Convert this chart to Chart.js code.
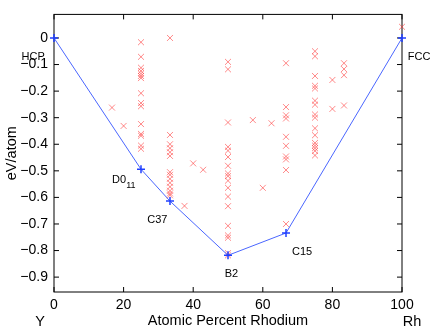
<!DOCTYPE html>
<html>
<head>
<meta charset="utf-8">
<script src="https://cdn.jsdelivr.net/npm/chart.js@4.4.0/dist/chart.umd.min.js"></script>
<style>
html, body { margin: 0; padding: 0; background: #fff; }
</style>
</head>
<body>
<canvas id="myChart" width="436" height="330"></canvas>
<script>
// convex hull (ground states)
var hullX = [0, 25, 33.33, 50, 66.67, 100];
var hullY = [0, -0.494, -0.614, -0.818, -0.734, 0];

// all calculated structures
var calcX = [16.67, 20,
    25, 25, 25, 25, 25, 25, 25, 25, 25, 25, 25, 25, 25, 25, 25,
    33.33, 33.33, 33.33, 33.33, 33.33, 33.33, 33.33, 33.33, 33.33, 33.33, 33.33, 33.33, 33.33, 33.33,
    37.5, 40, 42.86,
    50, 50, 50, 50, 50, 50, 50, 50, 50, 50, 50, 50, 50, 50, 50, 50, 50, 50,
    57.14, 60, 62.5,
    66.67, 66.67, 66.67, 66.67, 66.67, 66.67, 66.67, 66.67, 66.67, 66.67,
    75, 75, 75, 75, 75, 75, 75, 75, 75, 75, 75, 75, 75, 75, 75, 75,
    80, 80,
    83.33, 83.33, 83.33, 83.33,
    100];
var calcY = [-0.262, -0.331,
    -0.016, -0.071, -0.112, -0.124, -0.134, -0.143, -0.151, -0.208, -0.245, -0.257, -0.324, -0.361, -0.368, -0.405, -0.417,
    0.0, -0.365, -0.40, -0.415, -0.43, -0.444, -0.505, -0.515, -0.53, -0.545, -0.56, -0.575, -0.585, -0.592,
    -0.632, -0.472, -0.496,
    -0.09, -0.118, -0.318, -0.41, -0.424, -0.448, -0.481, -0.51, -0.52, -0.537, -0.564, -0.597, -0.633, -0.707, -0.743, -0.752, -0.810, -0.818,
    -0.309, -0.564, -0.321,
    -0.095, -0.260, -0.291, -0.303, -0.372, -0.406, -0.446, -0.457, -0.497, -0.70,
    -0.050, -0.069, -0.143, -0.180, -0.190, -0.236, -0.251, -0.288, -0.300, -0.340, -0.366, -0.395, -0.405, -0.415, -0.425, -0.442,
    -0.158, -0.267,
    -0.095, -0.117, -0.140, -0.254,
    0.042];

// structure names and where they are written
var phaseNames = ['HCP', 'FCC', 'C37', 'B2', 'C15'];
var phaseX = [-6.0, 104.9, 29.7, 51.0, 71.3];
var phaseY = [-0.070, -0.070, -0.685, -0.890, -0.807];
var d011X = 16.7, d011Y = -0.536;

var xTicks = [0, 20, 40, 60, 80, 100];
var yTicks = [0, -0.1, -0.2, -0.3, -0.4, -0.5, -0.6, -0.7, -0.8, -0.9];

var fontName = '"Liberation Sans", Arial, Helvetica, sans-serif';

var hullData = [];
for (var i = 0; i < hullX.length; i++) {
    hullData.push({x: hullX[i], y: hullY[i]});
}
var calcData = [];
for (var i = 0; i < calcX.length; i++) {
    calcData.push({x: calcX[i], y: calcY[i]});
}

//рамка и внутренние риски
var framePlugin = {
    id: 'frame',
    beforeDatasetsDraw: function(chart) {
        var ctx = chart.ctx;
        var a = chart.chartArea;
        var xs = chart.scales.x, ys = chart.scales.y;
        ctx.save();
        ctx.strokeStyle = '#000';
        ctx.lineWidth = 1;
        ctx.strokeRect(a.left, a.top, a.right - a.left, a.bottom - a.top);
        ctx.beginPath();
        for (var i = 0; i < xTicks.length; i++) {
            var px = xs.getPixelForValue(xTicks[i]);
            ctx.moveTo(px, a.bottom); ctx.lineTo(px, a.bottom - 5);
            ctx.moveTo(px, a.top); ctx.lineTo(px, a.top + 5);
        }
        for (var j = 0; j < yTicks.length; j++) {
            var py = ys.getPixelForValue(yTicks[j]);
            ctx.moveTo(a.left, py); ctx.lineTo(a.left + 5, py);
            ctx.moveTo(a.right, py); ctx.lineTo(a.right - 5, py);
        }
        ctx.stroke();
        ctx.restore();
    },
    afterDraw: function(chart) {
        var ctx = chart.ctx;
        var xs = chart.scales.x, ys = chart.scales.y;
        ctx.save();
        ctx.fillStyle = '#000';
        ctx.textAlign = 'center';
        ctx.textBaseline = 'middle';
        ctx.font = '11px ' + fontName;
        for (var i = 0; i < phaseNames.length; i++) {
            ctx.fillText(phaseNames[i], xs.getPixelForValue(phaseX[i]), ys.getPixelForValue(phaseY[i]));
        }
        // D0 with subscript 11
        ctx.textAlign = 'left';
        var dx = xs.getPixelForValue(d011X), dy = ys.getPixelForValue(d011Y);
        ctx.fillText('D0', dx, dy);
        var w = ctx.measureText('D0').width;
        ctx.font = '9px ' + fontName;
        ctx.fillText('11', dx + w, dy + 5);
        // element names under the axis ends
        ctx.font = '14.5px ' + fontName;
        ctx.textAlign = 'center';
        ctx.fillText('Y', xs.getPixelForValue(0) - 14, 322);
        ctx.fillText('Rh', xs.getPixelForValue(100) + 10, 322);
        ctx.restore();
    }
};

var ctx = document.getElementById('myChart').getContext('2d');
var myChart = new Chart(ctx, {
    type: 'scatter',
    data: {
        datasets: [
            {
                label: 'hull',
                data: hullData,
                showLine: true,
                borderColor: '#4a66ff',
                borderWidth: 1,
                pointStyle: 'cross',
                pointRadius: 4,
                pointBorderColor: '#2040ff',
                pointBorderWidth: 1.5,
                clip: false
            },
            {
                label: 'structures',
                data: calcData,
                showLine: false,
                pointStyle: 'crossRot',
                pointRadius: 4.2,
                pointBorderColor: 'rgba(255, 40, 40, 0.55)',
                pointBorderWidth: 1,
                clip: false
            }
        ]
    },
    options: {
        responsive: false,
        animation: false,
        events: [],
        layout: {
            padding: {left: 0, right: 34, top: 9, bottom: 0}
        },
        plugins: {
            legend: {display: false},
            tooltip: {enabled: false}
        },
        scales: {
            x: {
                type: 'linear',
                min: 0,
                max: 100,
                afterBuildTicks: function(scale) {
                    scale.ticks = xTicks.map(function(v) { return {value: v}; });
                },
                afterFit: function(scale) { scale.height = 38; },
                grid: {display: false, drawTicks: false},
                border: {display: false},
                ticks: {
                    color: '#000',
                    font: {family: fontName, size: 14},
                    padding: 5,
                    maxRotation: 0
                },
                title: {
                    display: true,
                    text: 'Atomic Percent Rhodium',
                    color: '#000',
                    font: {family: fontName, size: 14.5},
                    padding: {top: 0, bottom: 0}
                }
            },
            y: {
                type: 'linear',
                min: -0.956,
                max: 0.0887,
                afterBuildTicks: function(scale) {
                    scale.ticks = yTicks.map(function(v) { return {value: v}; });
                },
                afterFit: function(scale) { scale.width = 54; },
                grid: {display: false, drawTicks: false},
                border: {display: false},
                ticks: {
                    color: '#000',
                    font: {family: fontName, size: 14},
                    padding: 6,
                    callback: function(v) {
                        if (Math.abs(v) < 1e-9) return '0';
                        return '\u2212' + Math.abs(v).toFixed(1);
                    }
                },
                title: {
                    display: true,
                    text: 'eV/atom',
                    color: '#000',
                    font: {family: fontName, size: 14.5},
                    padding: {top: 3, bottom: 0}
                }
            }
        }
    },
    plugins: [framePlugin]
});
</script>
</body>
</html>
